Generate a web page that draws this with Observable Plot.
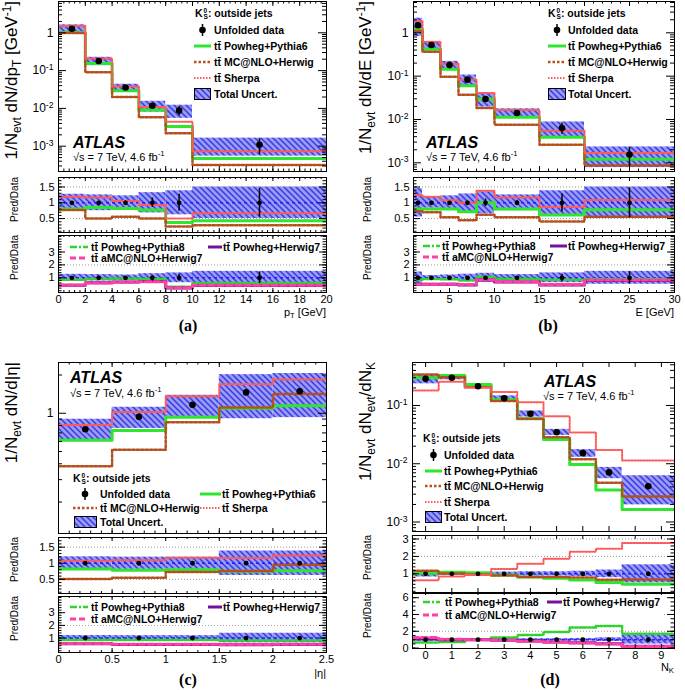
<!DOCTYPE html>
<html><head><meta charset="utf-8">
<script src="https://cdn.jsdelivr.net/npm/d3@7"></script>
<script src="https://cdn.jsdelivr.net/npm/@observablehq/plot@0.6"></script>
<style>
html,body{margin:0;padding:0;background:#fff;}
#root{position:relative;width:685px;height:690px;overflow:hidden;background:#fff;font-family:"Liberation Sans",Arial,Helvetica,sans-serif;color:#000;}
.abs{position:absolute;white-space:nowrap;line-height:1.15;}
.abs sub,.abs sup{font-size:70%;line-height:0;}
.abs sub{vertical-align:-0.28em;}
.abs sup{vertical-align:0.55em;}
.ss{display:inline-block;vertical-align:-0.38em;font-size:62%;line-height:0.95;margin-left:1px;}
.ss span{display:block;}
</style></head><body>
<svg width="0" height="0" style="position:absolute"><defs>
<pattern id="hatch" patternUnits="userSpaceOnUse" width="6" height="6">
<rect width="6" height="6" fill="#9a9af7"/>
<path d="M0,0L6,6M-1,5L1,7M5,-1L7,1" stroke="#3a3ae2" stroke-width="1.5"/>
</pattern></defs></svg>
<div id="root"></div>
<script>
const FONT = '"Liberation Sans", Arial, Helvetica, sans-serif';

// ---------------- (a) pT ----------------
const aEdges = [0, 2, 4, 6, 8, 10, 20];
const aX = [1, 3, 5, 7, 9, 15];
const aData = [1.28, 0.18, 0.0357, 0.0117, 0.0088, 0.00109];
const aStat = [0.03, 0.04, 0.06, 0.15, 0.27, 0.45];
const aUnc = [0.27, 0.25, 0.22, 0.32, 0.38, 0.5];
const aPy6 = [1.02, 0.153, 0.0293, 0.0090, 0.00334, 0.00047];
const aMcnlo = [0.99, 0.090, 0.0200, 0.00585, 0.0022, 0.000316];
const aSherpa = [1.52, 0.21, 0.0378, 0.0109, 0.0044, 0.00073];
const aR1Py6 = [0.8, 0.85, 0.82, 0.77, 0.38, 0.43];
const aR1Mcnlo = [0.77, 0.5, 0.56, 0.5, 0.25, 0.29];
const aR1Sherpa = [1.19, 1.17, 1.06, 0.93, 0.5, 0.67];
const aR2Py8 = [0.85, 0.92, 0.95, 0.92, 0.3, 0.6];
const aR2Hw7 = [0.42, 0.62, 0.68, 0.72, 0.2, 0.4];
const aR2Amc = [0.45, 0.6, 0.66, 0.7, 0.22, 0.42];
const aXTicks = [0, 2, 4, 6, 8, 10, 12, 14, 16, 18, 20];

// ---------------- (b) E ----------------
const bEdges = [1, 2, 4, 6, 8, 10, 15, 20, 30];
const bX = [1.5, 3, 5, 7, 9, 12.5, 17.5, 25];
const bData = [1.5, 0.525, 0.18, 0.083, 0.0298, 0.0141, 0.00635, 0.00155];
const bStat = [0.03, 0.03, 0.03, 0.05, 0.12, 0.08, 0.28, 0.47];
const bUnc = [0.45, 0.17, 0.22, 0.28, 0.35, 0.25, 0.38, 0.5];
const bPy6 = [1.2, 0.42, 0.144, 0.06, 0.0298, 0.0113, 0.00387, 0.00121];
const bMcnlo = [1.1, 0.368, 0.097, 0.0374, 0.0185, 0.0076, 0.0026, 0.00087];
const bSherpa = [1.86, 0.625, 0.194, 0.083, 0.0411, 0.0165, 0.00552, 0.00169];
const bR1Py6 = [0.8, 0.8, 0.8, 0.72, 1.0, 0.8, 0.61, 0.78];
const bR1Mcnlo = [0.73, 0.7, 0.54, 0.45, 0.62, 0.54, 0.41, 0.56];
const bR1Sherpa = [1.24, 1.19, 1.08, 1.0, 1.38, 1.17, 0.87, 1.09];
const bR2Py8 = [0.85, 0.9, 0.88, 0.8, 1.08, 0.92, 0.85, 0.9];
const bR2Hw7 = [0.5, 0.5, 0.5, 0.45, 0.82, 0.68, 0.45, 0.8];
const bR2Amc = [0.5, 0.5, 0.52, 0.48, 0.85, 0.7, 0.48, 0.82];
const bXTicks = [5, 10, 15, 20, 25, 30];

// ---------------- (c) |eta| ----------------
const cEdges = [0, 0.5, 1, 1.5, 2, 2.5];
const cX = [0.25, 0.75, 1.25, 1.75, 2.25];
const cData = [0.748, 0.937, 1.165, 1.46, 1.49];
const cStat = [0.02, 0.02, 0.02, 0.03, 0.05];
const cUnc = [0.2, 0.19, 0.19, 0.38, 0.38];
const cPy6 = [0.613, 0.731, 0.932, 1.095, 1.147];
const cMcnlo = [0.382, 0.515, 0.85, 1.11, 1.415];
const cSherpa = [0.808, 1.021, 1.363, 1.694, 1.848];
const cR1Py6 = [0.82, 0.78, 0.8, 0.75, 0.77];
const cR1Mcnlo = [0.51, 0.55, 0.73, 0.76, 0.95];
const cR1Sherpa = [1.08, 1.09, 1.17, 1.16, 1.24];
const cR2Py8 = [0.85, 0.85, 0.85, 0.8, 0.8];
const cR2Hw7 = [0.55, 0.5, 0.5, 0.48, 0.5];
const cR2Amc = [0.58, 0.52, 0.52, 0.5, 0.52];
const cXTicks = [0, 0.5, 1, 1.5, 2, 2.5];

// ---------------- (d) N_K ----------------
const dEdges = [-0.5, 0.5, 1.5, 2.5, 3.5, 4.5, 5.5, 6.5, 7.5, 9.5];
const dX = [0, 1, 2, 3, 4, 5, 6, 7, 8.5];
const dData = [0.287, 0.3, 0.214, 0.133, 0.072, 0.0348, 0.0152, 0.0071, 0.0041];
const dStat = [0.02, 0.02, 0.02, 0.02, 0.03, 0.03, 0.04, 0.06, 0.1];
const dUnc = [0.18, 0.08, 0.07, 0.1, 0.12, 0.12, 0.15, 0.22, 0.52];
const dPy6 = [0.298, 0.327, 0.229, 0.125, 0.059, 0.0261, 0.0097, 0.00355, 0.00164];
const dMcnlo = [0.339, 0.306, 0.205, 0.12, 0.059, 0.0285, 0.012, 0.0047, 0.00275];
const dSherpa = [0.181, 0.255, 0.203, 0.17, 0.114, 0.0651, 0.0345, 0.0173, 0.01136];
const dR1Py6 = [1.04, 1.09, 1.07, 0.94, 0.82, 0.75, 0.64, 0.5, 0.4];
const dR1Mcnlo = [1.18, 1.02, 0.96, 0.9, 0.82, 0.82, 0.79, 0.66, 0.67];
const dR1Sherpa = [0.63, 0.85, 0.95, 1.28, 1.58, 1.87, 2.27, 2.44, 2.77];
const dR2Py8 = [0.65, 0.72, 1.0, 1.25, 1.55, 1.92, 2.45, 2.62, 1.72];
const dR2Hw7 = [1.12, 1.0, 1.0, 0.92, 0.85, 0.72, 0.62, 0.52, 0.22];
const dR2Amc = [1.25, 1.05, 1.0, 0.92, 0.8, 0.68, 0.6, 0.5, 0.2];
const dXTicks = [0, 1, 2, 3, 4, 5, 6, 7, 8, 9];

// axis tick values / labels
const logTicks = [0.001, 0.01, 0.1, 1];
const logTickLabels = ["10^-3", "10^-2", "10^-1", "1"];
const cYTicks = [1];
const cYTickLabels = ["1"];
const r1Ticks = [0.5, 1, 1.5];
const r2Ticks = [1, 2, 3];
const dR1Ticks = [1, 2, 3];
const dR2Ticks = [0, 2, 4, 6];
const r1Guides = [0.5, 1.5];
const r2Guides = [2];
const dR1Guides = [2, 3];
const dR2Guides = [2, 4];

// ---------------- styles ----------------
const ST = {
  p6: {stroke: "#2ee62e", strokeWidth: 3},
  mc: {stroke: "#b4501e", strokeWidth: 2.5, strokeDasharray: "2.5,2"},
  sh: {stroke: "#ff5a5a", strokeWidth: 2, strokeDasharray: "1.5,1.5"},
  p8: {stroke: "#2fd22f", strokeWidth: 2.5, strokeDasharray: "7,2,2,2"},
  h7: {stroke: "#70129c", strokeWidth: 3},
  amc: {stroke: "#ff3fa3", strokeWidth: 3, strokeDasharray: "6,3"}
};
const root = document.getElementById("root");

function rng(a, b, step) { const o = []; for (let v = a; v <= b + 1e-9; v += step) o.push(+v.toFixed(6)); return o; }
function logMinor(lo, hi) {
  const o = [];
  for (let e = Math.floor(Math.log10(lo)); e <= Math.ceil(Math.log10(hi)); e++)
    for (let k = 2; k <= 9; k++) { const v = k * Math.pow(10, e); if (v >= lo && v <= hi) o.push(v); }
  return o;
}
function steps(edges, vals) { return edges.map((e, i) => ({x: e, y: vals[Math.min(i, vals.length - 1)]})); }
function binsOf(edges, xs, vals, stat, unc) {
  return vals.map((v, i) => ({x1: edges[i], x2: edges[i + 1], x: xs[i], v, s: stat[i], u: unc[i]}));
}
function hist(edges, vals, st) {
  return Plot.line(steps(edges, vals), {x: "x", y: "y", curve: "step-after", clip: true, ...st});
}
function supify(svg) {
  const ns = "http://www.w3.org/2000/svg";
  svg.querySelectorAll("text").forEach(t => {
    const s = t.textContent;
    if (s.includes("^")) {
      const [base, exp] = s.split("^");
      t.textContent = "";
      const a = document.createElementNS(ns, "tspan"); a.textContent = base;
      const b = document.createElementNS(ns, "tspan"); b.textContent = exp;
      b.setAttribute("dy", "-0.5em"); b.setAttribute("font-size", "72%");
      t.append(a, b);
    }
  });
}

function drawSub(o) {
  const W = o.x1 - o.x0, H = o.y1 - o.y0;
  const marks = [...o.marks, Plot.frame({stroke: "black", strokeWidth: 1})];
  const yl = o.yLen, xl = o.xLen;
  [[o.yMajor, yl[0]], [o.yMinor, yl[1]]].forEach(([arr, len]) => {
    if (!arr || !arr.length) return;
    marks.push(Plot.tickY(arr, {y: d => d, insetRight: W - len, stroke: "black", strokeWidth: 1}));
    marks.push(Plot.tickY(arr, {y: d => d, insetLeft: W - len, stroke: "black", strokeWidth: 1}));
  });
  [[o.xMajor, xl[0]], [o.xMinor, xl[1]]].forEach(([arr, len]) => {
    if (!arr || !arr.length) return;
    marks.push(Plot.tickX(arr, {x: d => d, insetTop: H - len, stroke: "black", strokeWidth: 1}));
    marks.push(Plot.tickX(arr, {x: d => d, insetBottom: H - len, stroke: "black", strokeWidth: 1}));
  });
  marks.push(Plot.axisY({ticks: o.yMajor, tickSize: 0, tickPadding: o.yPad, fontSize: o.yFont, tickFormat: o.yFmt || (d => String(d)), label: null}));
  if (o.xLabels) marks.push(Plot.axisX({ticks: o.xMajor, tickSize: 0, tickPadding: 3, fontSize: 11, tickFormat: d => String(d), label: null}));
  const xOpt = {domain: o.xDomain};
  if (!o.xLabels) xOpt.axis = null;
  const svg = Plot.plot({
    width: W, height: H, margin: 0,
    style: {overflow: "visible", background: "transparent", fontFamily: FONT, color: "black", maxWidth: "none"},
    x: xOpt,
    y: {domain: o.yDomain, type: o.yType || "linear"},
    marks
  });
  supify(svg);
  svg.style.position = "absolute";
  svg.style.left = o.x0 + "px";
  svg.style.top = o.y0 + "px";
  root.appendChild(svg);
}

function buildPanel(P) {
  const B = binsOf(P.edges, P.xs, P.data, P.stat, P.unc);
  const lab = new Map(P.mainTicks.map((t, i) => [t, P.mainLabels[i]]));
  drawSub({
    x0: P.x0, x1: P.x1, y0: P.main[0], y1: P.main[1], xDomain: P.xDomain,
    yDomain: P.mainDomain, yType: "log",
    marks: [
      Plot.rect(B, {x1: "x1", x2: "x2", y1: d => d.v * (1 - d.u), y2: d => d.v * (1 + d.u), fill: "url(#hatch)", clip: true}),
      hist(P.edges, P.py6, ST.p6),
      hist(P.edges, P.mc, ST.mc),
      hist(P.edges, P.sh, ST.sh),
      Plot.ruleX(B, {x: "x", y1: d => d.v * (1 - d.s), y2: d => d.v * (1 + d.s), stroke: "black", strokeWidth: 1.5}),
      Plot.dot(B, {x: "x", y: "v", r: 3.3, fill: "black", stroke: "none"})
    ],
    yMajor: P.mainTicks, yMinor: logMinor(P.mainDomain[0], P.mainDomain[1]),
    yFmt: d => lab.get(d) ?? "", yFont: 12, yPad: 5, yLen: [8, 4],
    xMajor: P.xMajor, xMinor: P.xMinor, xLen: [5, 2.5], xLabels: false
  });
  const ratioMarks = (lines, guides) => [
    Plot.rect(B, {x1: "x1", x2: "x2", y1: d => 1 - d.u, y2: d => 1 + d.u, fill: "url(#hatch)", clip: true}),
    Plot.ruleY(guides, {y: d => d, stroke: "#9a9a9a", strokeDasharray: "1,2", strokeWidth: 1}),
    Plot.ruleY([1], {y: d => d, stroke: "#2020ff", strokeDasharray: "3,3", strokeWidth: 1.5}),
    ...lines,
    Plot.ruleX(B, {x: "x", y1: d => 1 - d.s, y2: d => 1 + d.s, stroke: "black", strokeWidth: 1.5}),
    Plot.dot(B, {x: "x", y: () => 1, r: 2.4, fill: "black", stroke: "none"})
  ];
  drawSub({
    x0: P.x0, x1: P.x1, y0: P.r1[0], y1: P.r1[1], xDomain: P.xDomain, yDomain: P.r1Domain,
    marks: ratioMarks([hist(P.edges, P.r1py6, ST.p6), hist(P.edges, P.r1mc, ST.mc), hist(P.edges, P.r1sh, ST.sh)], P.r1Guides),
    yMajor: P.r1Ticks, yMinor: P.r1Minor, yFont: 11, yPad: 4, yLen: [7, 3.5],
    xMajor: P.xMajor, xMinor: P.xMinor, xLen: [4, 2], xLabels: false
  });
  drawSub({
    x0: P.x0, x1: P.x1, y0: P.r2[0], y1: P.r2[1], xDomain: P.xDomain, yDomain: P.r2Domain,
    marks: ratioMarks([hist(P.edges, P.r2p8, ST.p8), hist(P.edges, P.r2h7, ST.h7), hist(P.edges, P.r2amc, ST.amc)], P.r2Guides),
    yMajor: P.r2Ticks, yMinor: P.r2Minor, yFont: 11, yPad: 4, yLen: [7, 3.5],
    xMajor: P.xMajor, xMinor: P.xMinor, xLen: [4, 2], xLabels: true
  });
}

buildPanel({
  x0: 58, x1: 326, main: [1, 171], r1: [177, 232], r2: [235, 292], xDomain: [0, 20],
  edges: aEdges, xs: aX, data: aData, stat: aStat, unc: aUnc,
  py6: aPy6, mc: aMcnlo, sh: aSherpa, r1py6: aR1Py6, r1mc: aR1Mcnlo, r1sh: aR1Sherpa,
  r2p8: aR2Py8, r2h7: aR2Hw7, r2amc: aR2Amc,
  mainDomain: [2.14e-4, 6.73], mainTicks: logTicks, mainLabels: logTickLabels,
  xMajor: aXTicks, xMinor: rng(0, 20, 0.4),
  r1Domain: [0.06, 1.8], r1Ticks: r1Ticks, r1Minor: rng(0.1, 1.7, 0.1), r1Guides: r1Guides,
  r2Domain: [-0.14, 4.28], r2Ticks: r2Ticks, r2Minor: rng(0, 4.2, 0.2), r2Guides: r2Guides
});
buildPanel({
  x0: 413, x1: 674, main: [1, 171], r1: [177, 232], r2: [235, 292], xDomain: [1, 30],
  edges: bEdges, xs: bX, data: bData, stat: bStat, unc: bUnc,
  py6: bPy6, mc: bMcnlo, sh: bSherpa, r1py6: bR1Py6, r1mc: bR1Mcnlo, r1sh: bR1Sherpa,
  r2p8: bR2Py8, r2h7: bR2Hw7, r2amc: bR2Amc,
  mainDomain: [6.3e-4, 5.28], mainTicks: logTicks, mainLabels: logTickLabels,
  xMajor: bXTicks, xMinor: rng(1, 30, 1),
  r1Domain: [0.06, 1.8], r1Ticks: r1Ticks, r1Minor: rng(0.1, 1.7, 0.1), r1Guides: r1Guides,
  r2Domain: [-0.14, 4.28], r2Ticks: r2Ticks, r2Minor: rng(0, 4.2, 0.2), r2Guides: r2Guides
});
buildPanel({
  x0: 58, x1: 326, main: [362, 533], r1: [537, 593], r2: [596, 652], xDomain: [0, 2.5],
  edges: cEdges, xs: cX, data: cData, stat: cStat, unc: cUnc,
  py6: cPy6, mc: cMcnlo, sh: cSherpa, r1py6: cR1Py6, r1mc: cR1Mcnlo, r1sh: cR1Sherpa,
  r2p8: cR2Py8, r2h7: cR2Hw7, r2amc: cR2Amc,
  mainDomain: [0.113, 2.51], mainTicks: cYTicks, mainLabels: cYTickLabels,
  xMajor: cXTicks, xMinor: rng(0, 2.5, 0.1),
  r1Domain: [0.06, 1.8], r1Ticks: r1Ticks, r1Minor: rng(0.1, 1.7, 0.1), r1Guides: r1Guides,
  r2Domain: [-0.14, 4.28], r2Ticks: r2Ticks, r2Minor: rng(0, 4.2, 0.2), r2Guides: r2Guides
});
buildPanel({
  x0: 412, x1: 674, main: [362, 531], r1: [535, 592], r2: [593, 648], xDomain: [-0.5, 9.5],
  edges: dEdges, xs: dX, data: dData, stat: dStat, unc: dUnc,
  py6: dPy6, mc: dMcnlo, sh: dSherpa, r1py6: dR1Py6, r1mc: dR1Mcnlo, r1sh: dR1Sherpa,
  r2p8: dR2Py8, r2h7: dR2Hw7, r2amc: dR2Amc,
  mainDomain: [6.87e-4, 0.547], mainTicks: logTicks.slice(0, 3), mainLabels: logTickLabels.slice(0, 3),
  xMajor: dXTicks, xMinor: [],
  r1Domain: [-0.07, 3.2], r1Ticks: dR1Ticks, r1Minor: rng(0, 3.2, 0.2), r1Guides: dR1Guides,
  r2Domain: [-0.05, 6.5], r2Ticks: dR2Ticks, r2Minor: rng(0, 6.5, 0.5), r2Guides: dR2Guides
});

// ---------------- HTML text overlays ----------------
function txt(x, y, html, opt = {}) {
  const d = document.createElement("div");
  d.className = "abs";
  d.style.left = x + "px"; d.style.top = y + "px";
  const tx = opt.anchor === "middle" ? "-50%" : opt.anchor === "end" ? "-100%" : "0";
  d.style.transform = `translate(${tx},-50%)`;
  d.style.fontSize = (opt.size || 10.5) + "px";
  d.style.fontWeight = opt.weight || "normal";
  d.style.fontStyle = opt.style || "normal";
  if (opt.family) d.style.fontFamily = opt.family;
  d.innerHTML = html;
  root.appendChild(d);
  return d;
}
function vtxt(x, yTop, html, size) {
  const d = document.createElement("div");
  d.className = "abs";
  d.style.left = x + "px"; d.style.top = yTop + "px";
  d.style.fontSize = size + "px";
  d.style.transformOrigin = "100% 50%";
  d.style.transform = "translate(-100%,-50%) rotate(-90deg)";
  d.innerHTML = html;
  root.appendChild(d);
}
function box(x0, y0, x1, y1) {
  const d = document.createElement("div");
  d.style.cssText = `position:absolute;left:${x0}px;top:${y0}px;width:${x1 - x0}px;height:${y1 - y0}px;background:#fff;`;
  root.appendChild(d);
}
function swatch(x, yc, w, kind) {
  const h = 12;
  let inner;
  if (kind === "data") {
    inner = `<line x1="${w / 2}" x2="${w / 2}" y1="0" y2="${h}" stroke="black" stroke-width="1.5"/><circle cx="${w / 2}" cy="${h / 2}" r="3.3" fill="black"/>`;
  } else if (kind === "unc") {
    inner = `<rect x="0.5" y="0.5" width="${w - 1}" height="${h - 1}" fill="url(#hatch)" stroke="black" stroke-width="1"/>`;
  } else {
    const s = ST[kind];
    inner = `<line x1="0" x2="${w}" y1="${h / 2}" y2="${h / 2}" stroke="${s.stroke}" stroke-width="${s.strokeWidth}" ${s.strokeDasharray ? `stroke-dasharray="${s.strokeDasharray}"` : ""}/>`;
  }
  const d = document.createElement("div");
  d.style.cssText = `position:absolute;left:${x}px;top:${yc - h / 2}px;width:${w}px;height:${h}px;`;
  d.innerHTML = `<svg width="${w}" height="${h}" style="display:block;overflow:visible">${inner}</svg>`;
  root.appendChild(d);
}
const TT = "tt\u0304";
const KS = 'K<span class="ss"><span>0</span><span>S</span></span>: outside jets';
const LBL = {
  data: "Unfolded data", p6: TT + " Powheg+Pythia6", mc: TT + " MC@NLO+Herwig", sh: TT + " Sherpa",
  unc: "Total Uncert.", p8: TT + " Powheg+Pythia8", h7: TT + " Powheg+Herwig7", amc: TT + " aMC@NLO+Herwig7"
};
function legRow(symX, symW, textX, y, kind) {
  swatch(symX, y, symW, kind);
  txt(textX, y, LBL[kind], {weight: "bold", size: 10.5});
}
const ATLAS_HTML = "ATLAS";
const SQRT_HTML = "\u221As = 7 TeV, 4.6 fb<sup>-1</sup>";
const PD = "Pred/Data";
const SERIF = '"Liberation Serif", "Times New Roman", serif';

// (a)
vtxt(12, 1, "1/N<sub>evt</sub> dN/dp<sub>T</sub> [GeV<sup>-1</sup>]", 17);
vtxt(15, 177, PD, 10);
vtxt(15, 235, PD, 10);
txt(195, 14, KS, {weight: "bold"});
legRow(194, 17, 214, 30, "data"); legRow(194, 17, 214, 46, "p6"); legRow(194, 17, 214, 62, "mc");
legRow(194, 17, 214, 78, "sh"); legRow(194, 17, 214, 94, "unc");
txt(73, 143, ATLAS_HTML, {weight: "bold", style: "italic", size: 16});
txt(73, 157, SQRT_HTML, {size: 11});
box(68, 240, 310, 264);
legRow(70, 18, 91, 247, "p8"); legRow(208, 14, 223, 247, "h7"); legRow(70, 18, 91, 258, "amc");
txt(326, 312, "p<sub>T</sub> [GeV]", {anchor: "end", size: 11});
txt(188, 326, "(a)", {anchor: "middle", size: 16, weight: "bold", family: SERIF});

// (b)
vtxt(366, 1, "1/N<sub>evt</sub> dN/dE [GeV<sup>-1</sup>]", 17);
vtxt(368, 177, PD, 10);
vtxt(368, 235, PD, 10);
txt(548, 14, KS, {weight: "bold"});
legRow(548, 18, 568, 30, "data"); legRow(548, 18, 568, 46, "p6"); legRow(548, 18, 568, 62, "mc");
legRow(548, 18, 568, 78, "sh"); legRow(548, 18, 568, 94, "unc");
txt(426, 143, ATLAS_HTML, {weight: "bold", style: "italic", size: 16});
txt(426, 157, SQRT_HTML, {size: 11});
box(421, 240, 664, 264);
legRow(423, 17, 442, 246, "p8"); legRow(550, 17, 568, 246, "h7"); legRow(423, 17, 442, 257, "amc");
txt(674, 312, "E [GeV]", {anchor: "end", size: 11});
txt(548, 326, "(b)", {anchor: "middle", size: 16, weight: "bold", family: SERIF});

// (c)
vtxt(12, 362, "1/N<sub>evt</sub> dN/d|\u03B7|", 17);
vtxt(15, 537, PD, 10);
vtxt(15, 596, PD, 10);
txt(70, 378, ATLAS_HTML, {weight: "bold", style: "italic", size: 16});
txt(70, 393, SQRT_HTML, {size: 11});
txt(73, 479, KS, {weight: "bold"});
legRow(73, 24, 100, 494, "data"); legRow(200, 21, 222, 494, "p6");
legRow(73, 24, 100, 508, "mc"); legRow(200, 21, 222, 508, "sh");
legRow(74, 23, 100, 522, "unc");
box(68, 600, 310, 625);
legRow(70, 18, 91, 607, "p8"); legRow(208, 14, 223, 607, "h7"); legRow(70, 18, 91, 619, "amc");
txt(326, 673, "|\u03B7|", {anchor: "end", size: 11});
txt(188, 680, "(c)", {anchor: "middle", size: 16, weight: "bold", family: SERIF});

// (d)
vtxt(366, 362, "1/N<sub>evt</sub> dN<sub>evt</sub>/dN<sub>K</sub>", 17);
vtxt(368, 535, PD, 10);
vtxt(368, 593, PD, 10);
txt(544, 382, ATLAS_HTML, {weight: "bold", style: "italic", size: 16});
txt(543, 396, SQRT_HTML, {size: 11});
txt(423, 439, KS, {weight: "bold"});
legRow(425, 17, 444, 455, "data"); legRow(425, 17, 444, 470.5, "p6"); legRow(425, 17, 444, 486, "mc");
legRow(425, 17, 444, 501.5, "sh"); legRow(425, 17, 444, 517, "unc");
box(421, 595, 662, 622);
legRow(423, 17, 445, 602, "p8"); legRow(547, 15, 563, 602, "h7"); legRow(423, 17, 445, 615, "amc");
txt(674, 667, "N<sub>K</sub>", {anchor: "end", size: 11});
txt(550, 680, "(d)", {anchor: "middle", size: 16, weight: "bold", family: SERIF});
</script></body></html>
